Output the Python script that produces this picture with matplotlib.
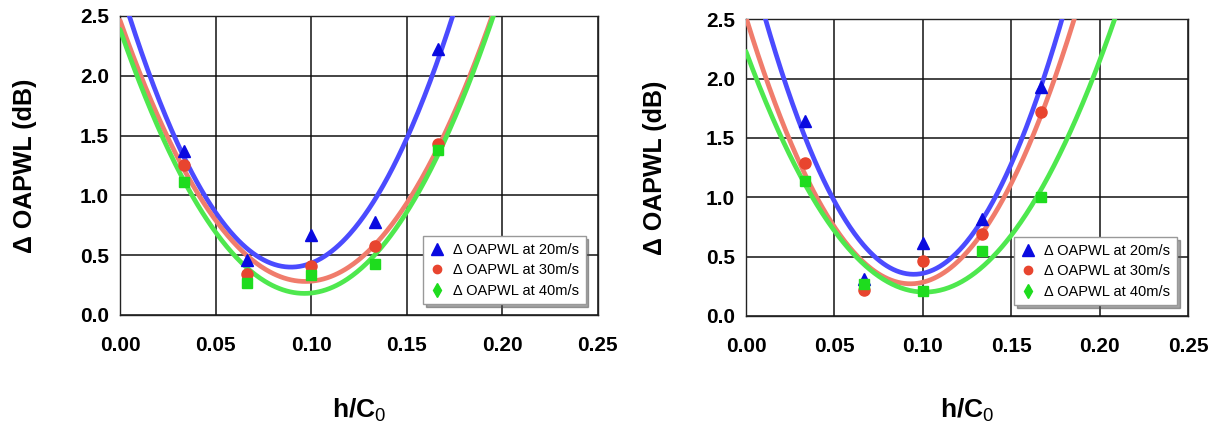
import matplotlib.pyplot as plt
import numpy as np
from matplotlib.lines import Line2D

plt.rcParams['font.family'] = ['Liberation Sans', 'DejaVu Sans']
plt.rcParams['mathtext.fontset'] = 'custom'
plt.rcParams['mathtext.rm'] = 'Liberation Sans'
plt.rcParams['mathtext.bf'] = 'Liberation Sans:bold'

# h/C0 positions of the measurements
h_c0 = [0.0333, 0.0667, 0.1, 0.1333, 0.1667]

# left chart: delta OAPWL (dB)
left_20 = [1.37, 0.46, 0.67, 0.78, 2.22]
left_30 = [1.25, 0.34, 0.41, 0.58, 1.43]
left_40 = [1.11, 0.27, 0.33, 0.43, 1.38]

# right chart: delta OAPWL (dB)
right_20 = [1.64, 0.31, 0.61, 0.82, 1.93]
right_30 = [1.29, 0.22, 0.46, 0.69, 1.72]
right_40 = [1.135, 0.27, 0.205, 0.545, 1.00]

# quadratic trend lines: [x of minimum, minimum, curvature]
left_fit_20 = [0.0895, 0.40, 293.0]
left_fit_30 = [0.0970, 0.28, 232.0]
left_fit_40 = [0.0965, 0.18, 237.0]
right_fit_20 = [0.0949, 0.35, 306.0]
right_fit_30 = [0.0930, 0.27, 260.0]
right_fit_40 = [0.1010, 0.20, 199.0]

labels = ["\u0394 OAPWL at 20m/s", "\u0394 OAPWL at 30m/s", "\u0394 OAPWL at 40m/s"]
x_ticks = [0.0, 0.05, 0.10, 0.15, 0.20, 0.25]
y_ticks = [0.0, 0.5, 1.0, 1.5, 2.0, 2.5]

line_colors = ['#4b4bff', '#f07c6c', '#4ee84e']
mark_colors = ['#0a0ae0', '#e8452f', '#1edc1e']
markers = ['^', 'o', 's']
mark_sizes = [9, 8, 6.5]
legend_markers = ['^', 'o', 'd']


def trend(fit, x):
    x0, ymin, k = fit
    return ymin + k * (x - x0) ** 2


def makePanel(ax, points, fits):
    xs = np.linspace(0.0, 0.25, 400)
    for i in range(3):
        ax.plot(xs, trend(fits[i], xs), color=line_colors[i], lw=3.4,
                solid_capstyle='round', zorder=3)
    for i in range(3):
        ax.plot(h_c0, points[i], linestyle='none', marker=markers[i],
                ms=mark_sizes[i], color=mark_colors[i], mec=mark_colors[i],
                zorder=4)

    ax.set_xlim(0.0, 0.25)
    ax.set_ylim(0.0, 2.5)
    ax.set_xticks(x_ticks)
    ax.set_yticks(y_ticks)
    ax.set_xticklabels(["%.2f" % t for t in x_ticks])
    ax.set_yticklabels(["%.1f" % t for t in y_ticks])
    ax.tick_params(axis='both', length=0, labelsize=15)
    ax.tick_params(axis='x', pad=15)
    ax.tick_params(axis='y', pad=8)
    for lab in ax.get_xticklabels() + ax.get_yticklabels():
        lab.set_fontweight('bold')
    ax.grid(True, color='#111111', lw=1.1)
    ax.set_axisbelow(True)
    for s in ax.spines.values():
        s.set_color('#222222')
        s.set_linewidth(1.0)

    ax.set_ylabel("\u0394 OAPWL (dB)", fontsize=18, fontweight='bold')
    ax.set_xlabel("h/C$_{\\mathrm{0}}$", fontsize=19, fontweight='bold')
    ax.xaxis.label.set_va('center')
    ax.yaxis.label.set_va('center')
    ax.xaxis.set_label_coords(0.5, -0.32)
    ax.yaxis.set_label_coords(-0.2, 0.5)

    handles = [Line2D([], [], linestyle='none', marker=legend_markers[i],
                      ms=[8, 6, 7][i], color=mark_colors[i]) for i in range(3)]
    leg = ax.legend(handles, labels, loc='lower right',
                    bbox_to_anchor=(0.975, 0.035), fontsize=10.5,
                    frameon=True, fancybox=False, shadow=True,
                    handlelength=1.0, handletextpad=0.6, borderpad=0.45,
                    labelspacing=0.45, borderaxespad=0.0)
    leg.get_frame().set_edgecolor('#999999')
    leg.get_frame().set_linewidth(1.0)
    leg.set_zorder(5)


fig = plt.figure(figsize=(12.09, 4.32), dpi=100)
ax_left = fig.add_axes([0.0993, 0.271, 0.395, 0.692])
ax_right = fig.add_axes([0.617, 0.269, 0.3656, 0.686])

makePanel(ax_left, [left_20, left_30, left_40],
          [left_fit_20, left_fit_30, left_fit_40])
makePanel(ax_right, [right_20, right_30, right_40],
          [right_fit_20, right_fit_30, right_fit_40])
ax_right.yaxis.set_label_coords(-0.206, 0.5)

fig.savefig("out.png", dpi=100)
